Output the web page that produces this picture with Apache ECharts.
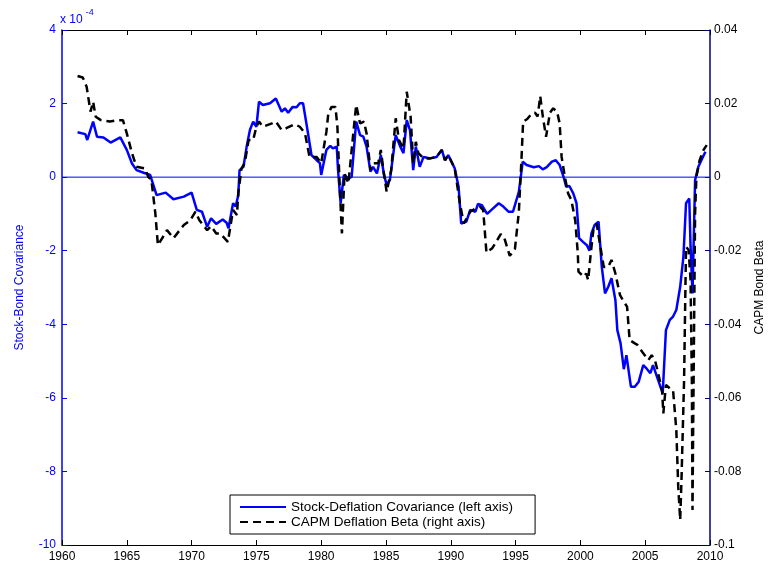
<!DOCTYPE html>
<html>
<head>
<meta charset="utf-8">
<script src="https://cdn.jsdelivr.net/npm/echarts@6/dist/echarts.min.js"></script>
<style>html,body{margin:0;padding:0;background:#fff}#c{width:774px;height:570px}</style>
</head>
<body>
<div id="c"></div>
<script>
// Stock-Deflation covariance (left axis, units of 1e-4)
const covYears = [1961.2,1961.8,1961.95,1962.4,1962.7,1963.2,1963.75,1964.5,1965.0,1965.4,1965.75,1966.3,1966.8,1967.3,1968.0,1968.6,1969.4,1970.0,1970.4,1970.8,1971.2,1971.5,1971.9,1972.4,1972.7,1972.85,1973.2,1973.4,1973.6,1973.7,1974.0,1974.25,1974.5,1974.75,1975.0,1975.2,1975.5,1976.05,1976.5,1976.95,1977.2,1977.45,1977.8,1978.1,1978.35,1978.6,1978.9,1979.25,1979.65,1979.9,1980.0,1980.4,1980.7,1980.9,1981.2,1981.3,1981.5,1981.75,1982.1,1982.35,1982.7,1983.0,1983.25,1983.5,1983.8,1984.0,1984.3,1984.6,1984.85,1985.05,1985.3,1985.75,1986.1,1986.35,1986.6,1986.85,1987.1,1987.3,1987.6,1987.9,1988.4,1988.9,1989.3,1989.55,1989.8,1990.3,1990.6,1990.8,1991.2,1991.5,1991.9,1992.1,1992.4,1992.8,1993.2,1993.7,1994.05,1994.45,1994.8,1995.25,1995.55,1995.85,1996.4,1996.8,1997.1,1997.4,1997.8,1998.1,1998.4,1998.7,1998.9,1999.15,1999.45,1999.7,1999.9,2000.2,2000.5,2000.7,2000.85,2001.1,2001.4,2001.65,2001.9,2002.15,2002.4,2002.7,2002.85,2003.1,2003.35,2003.55,2003.9,2004.2,2004.5,2004.85,2005.1,2005.4,2005.6,2006.0,2006.35,2006.6,2006.9,2007.15,2007.4,2007.7,2007.95,2008.15,2008.4,2008.5,2008.65,2008.85,2009.1,2009.4,2009.65];
const covValues = [1.22,1.17,1.01,1.51,1.10,1.08,0.94,1.08,0.74,0.37,0.19,0.12,0.06,-0.49,-0.42,-0.60,-0.53,-0.42,-0.89,-0.94,-1.35,-1.12,-1.27,-1.15,-1.24,-1.39,-0.71,-0.80,-0.49,0.19,0.28,0.83,1.28,1.51,1.37,2.05,1.96,2.01,2.14,1.78,1.87,1.75,1.91,1.90,2.01,2.01,1.37,0.60,0.46,0.38,0.06,0.74,0.85,0.78,0.83,0.19,-0.71,0.06,-0.03,0.01,1.51,1.14,1.10,0.83,0.15,0.28,0.10,0.60,0.06,-0.21,-0.08,1.14,0.83,0.65,1.55,1.28,0.19,0.83,0.28,0.55,0.51,0.55,0.74,0.46,0.60,0.24,-0.26,-1.26,-1.21,-0.89,-0.94,-0.73,-0.76,-1.00,-0.87,-0.71,-0.80,-0.94,-0.94,-0.40,0.42,0.33,0.27,0.30,0.21,0.27,0.42,0.46,0.33,0.01,-0.26,-0.24,-0.44,-0.71,-1.66,-1.76,-1.85,-2.00,-1.53,-1.30,-1.21,-2.44,-3.16,-2.98,-2.75,-3.34,-4.16,-4.52,-5.22,-4.84,-5.70,-5.70,-5.56,-5.11,-5.20,-5.33,-5.11,-5.52,-5.88,-4.16,-3.88,-3.79,-3.61,-2.98,-2.16,-0.71,-0.58,-1.89,-3.16,-0.08,0.28,0.51,0.69];

// CAPM deflation beta (right axis)
const betaYears = [1961.2,1961.6,1961.9,1962.2,1962.4,1962.6,1963.0,1963.7,1964.3,1964.7,1965.0,1965.4,1965.75,1966.4,1966.65,1966.9,1967.2,1967.4,1967.8,1968.1,1968.6,1969.4,1969.9,1970.3,1970.6,1971.2,1971.5,1971.9,1972.2,1972.8,1973.2,1973.5,1973.6,1973.85,1974.1,1974.4,1974.75,1975.0,1975.2,1975.5,1976.2,1976.5,1976.95,1977.3,1977.95,1978.35,1978.75,1979.1,1979.65,1980.0,1980.4,1980.55,1980.8,1981.1,1981.25,1981.45,1981.6,1981.8,1982.1,1982.5,1982.7,1983.0,1983.3,1983.5,1983.8,1984.0,1984.4,1984.6,1984.8,1985.05,1985.4,1985.75,1986.0,1986.35,1986.6,1986.9,1987.1,1987.3,1987.5,1987.9,1988.4,1988.9,1989.3,1989.55,1989.8,1990.3,1990.7,1991.0,1991.5,1991.9,1992.25,1992.5,1992.75,1993.2,1993.5,1993.85,1994.1,1994.55,1994.95,1995.25,1995.45,1995.58,1995.9,1996.25,1996.5,1996.7,1996.9,1997.1,1997.35,1997.65,1997.9,1998.2,1998.4,1998.55,1998.8,1999.05,1999.3,1999.6,1999.8,1999.85,2000.25,2000.45,2000.6,2000.8,2001.0,2001.25,2001.5,2001.8,2002.15,2002.4,2002.7,2003.05,2003.35,2003.6,2003.8,2004.2,2004.4,2004.85,2005.25,2005.5,2005.75,2006.0,2006.3,2006.4,2006.6,2006.9,2007.15,2007.4,2007.55,2007.7,2007.8,2008.0,2008.15,2008.35,2008.5,2008.6,2008.65,2008.7,2008.85,2008.95,2009.2,2009.5,2009.75];
const betaValues = [0.0275,0.0271,0.0246,0.0178,0.0205,0.0164,0.0155,0.0151,0.0155,0.0155,0.0119,0.0065,0.0028,0.0024,0.0001,-0.0008,-0.0098,-0.0185,-0.0162,-0.0144,-0.0166,-0.0130,-0.0117,-0.0094,-0.0117,-0.0144,-0.0133,-0.0153,-0.0153,-0.0176,-0.0089,-0.0103,-0.0044,0.0024,0.0038,0.0101,0.0101,0.0137,0.0151,0.0137,0.0146,0.0151,0.0128,0.0133,0.0144,0.0137,0.0119,0.0055,0.0055,0.0038,0.0123,0.0173,0.0191,0.0191,0.0137,-0.0044,-0.0153,0.0010,-0.0017,0.0128,0.0196,0.0146,0.0151,0.0119,0.0019,0.0038,0.0038,0.0074,0.0019,-0.0040,0.0019,0.0160,0.0101,0.0078,0.0232,0.0164,0.0038,0.0096,0.0065,0.0051,0.0051,0.0055,0.0074,0.0046,0.0060,0.0024,-0.0071,-0.0126,-0.0094,-0.0085,-0.0080,-0.0090,-0.0205,-0.0193,-0.0176,-0.0155,-0.0162,-0.0214,-0.0195,-0.0095,0.0046,0.0151,0.0158,0.0173,0.0175,0.0165,0.0220,0.0165,0.0110,0.0175,0.0187,0.0178,0.0146,0.0055,0.0001,-0.0044,-0.0062,-0.0117,-0.0207,-0.0257,-0.0271,-0.0262,-0.0280,-0.0207,-0.0144,-0.0126,-0.0180,-0.0244,-0.0244,-0.0225,-0.0262,-0.0320,-0.0339,-0.0352,-0.0443,-0.0452,-0.0456,-0.0479,-0.0497,-0.0484,-0.0497,-0.0533,-0.0579,-0.0642,-0.0565,-0.0574,-0.0579,-0.0687,-0.0842,-0.0932,-0.0823,-0.0552,-0.0189,-0.0198,-0.0280,-0.0552,-0.0905,-0.0687,-0.0098,0.0001,0.0046,0.0074,0.0087];

// zero reference line (left axis)
const zeroLineYears = [1960, 2010];
const zeroLineValues = [0, 0];

const xTicks = {min: 1960, max: 2010, step: 5};
const leftTicks = {min: -10, max: 4, step: 2};
const rightTicks = {min: -0.1, max: 0.04, step: 0.02};

const FONT = 'Liberation Sans, Arial, sans-serif';
const BLUE = '#0000ff';
const NAVY = '#00007f';

const chart = echarts.init(document.getElementById('c'), null, {renderer: 'canvas'});
const pairs = (xs, ys) => xs.map((x, i) => [x, ys[i]]);

chart.setOption({
  backgroundColor: '#fff',
  animation: false,
  textStyle: {fontFamily: FONT},
  grid: {left: 62, right: 64, top: 30, bottom: 25, containLabel: false},
  graphic: [{
    type: 'text', left: 60, top: 8,
    style: {
      text: '{a|x 10}{b|-4}',
      rich: {
        a: {fontFamily: FONT, fontSize: 12, fill: BLUE, padding: [6, 0, 0, 0]},
        b: {fontFamily: FONT, fontSize: 9, fill: BLUE, verticalAlign: 'top', padding: [0, 0, 6, 3]}
      }
    }
  }],
  legend: {
    orient: 'vertical', left: 230, top: 495,
    padding: [5, 22, 5, 9], itemGap: 1,
    itemWidth: 46, itemHeight: 14,
    backgroundColor: '#fff', borderColor: '#000', borderWidth: 1,
    itemStyle: {opacity: 0},
    textStyle: {fontFamily: FONT, fontSize: 13.5, color: '#000'},
    data: ['Stock-Deflation Covariance (left axis)', 'CAPM Deflation Beta (right axis)']
  },
  xAxis: [{
    type: 'value', position: 'bottom',
    min: xTicks.min, max: xTicks.max, interval: xTicks.step,
    axisLine: {onZero: false, lineStyle: {color: '#000', width: 1}},
    axisTick: {inside: true, length: 5, lineStyle: {color: '#000'}},
    axisLabel: {color: '#000', fontSize: 12, fontFamily: FONT, margin: 6, formatter: v => String(v)},
    splitLine: {show: false}
  }, {
    type: 'value', position: 'top',
    min: xTicks.min, max: xTicks.max, interval: xTicks.step,
    axisLine: {onZero: false, lineStyle: {color: '#000', width: 1}},
    axisTick: {inside: true, length: 5, lineStyle: {color: '#000'}},
    axisLabel: {show: false},
    splitLine: {show: false}
  }],
  yAxis: [{
    type: 'value', position: 'left',
    min: leftTicks.min, max: leftTicks.max, interval: leftTicks.step,
    name: 'Stock-Bond Covariance', nameLocation: 'middle', nameGap: 36,
    nameTextStyle: {color: BLUE, fontSize: 12, fontFamily: FONT},
    axisLine: {show: true, onZero: false, lineStyle: {color: BLUE, width: 1.5}},
    axisTick: {show: true, inside: true, length: 5, lineStyle: {color: BLUE}},
    axisLabel: {color: BLUE, fontSize: 12, fontFamily: FONT, margin: 6},
    splitLine: {show: false}
  }, {
    type: 'value', position: 'right',
    min: rightTicks.min, max: rightTicks.max, interval: rightTicks.step,
    name: 'CAPM Bond Beta', nameLocation: 'middle', nameGap: 44, nameRotate: 90,
    nameTextStyle: {color: '#000', fontSize: 12, fontFamily: FONT},
    axisLine: {show: true, onZero: false, lineStyle: {color: NAVY, width: 1.5}},
    axisTick: {show: true, inside: true, length: 5, lineStyle: {color: NAVY}},
    axisLabel: {color: '#000', fontSize: 12, fontFamily: FONT, margin: 4,
      formatter: v => { const r = Math.round(v * 100) / 100; return r === 0 ? '0' : String(r); }},
    splitLine: {show: false}
  }],
  series: [{
    name: 'zero',
    type: 'line', xAxisIndex: 0, yAxisIndex: 0,
    data: pairs(zeroLineYears, zeroLineValues),
    showSymbol: false, symbol: 'none', silent: true,
    lineStyle: {color: BLUE, width: 1},
    z: 2
  }, {
    name: 'Stock-Deflation Covariance (left axis)',
    type: 'line', xAxisIndex: 0, yAxisIndex: 0,
    data: pairs(covYears, covValues),
    showSymbol: false, symbol: 'none',
    lineStyle: {color: BLUE, width: 2.5},
    itemStyle: {color: BLUE},
    z: 3
  }, {
    name: 'CAPM Deflation Beta (right axis)',
    type: 'line', xAxisIndex: 0, yAxisIndex: 1,
    data: pairs(betaYears, betaValues),
    showSymbol: false, symbol: 'none',
    lineStyle: {color: '#000', width: 2.5, type: [8, 5]},
    itemStyle: {color: '#000'},
    z: 4
  }]
});
</script>
</body>
</html>
